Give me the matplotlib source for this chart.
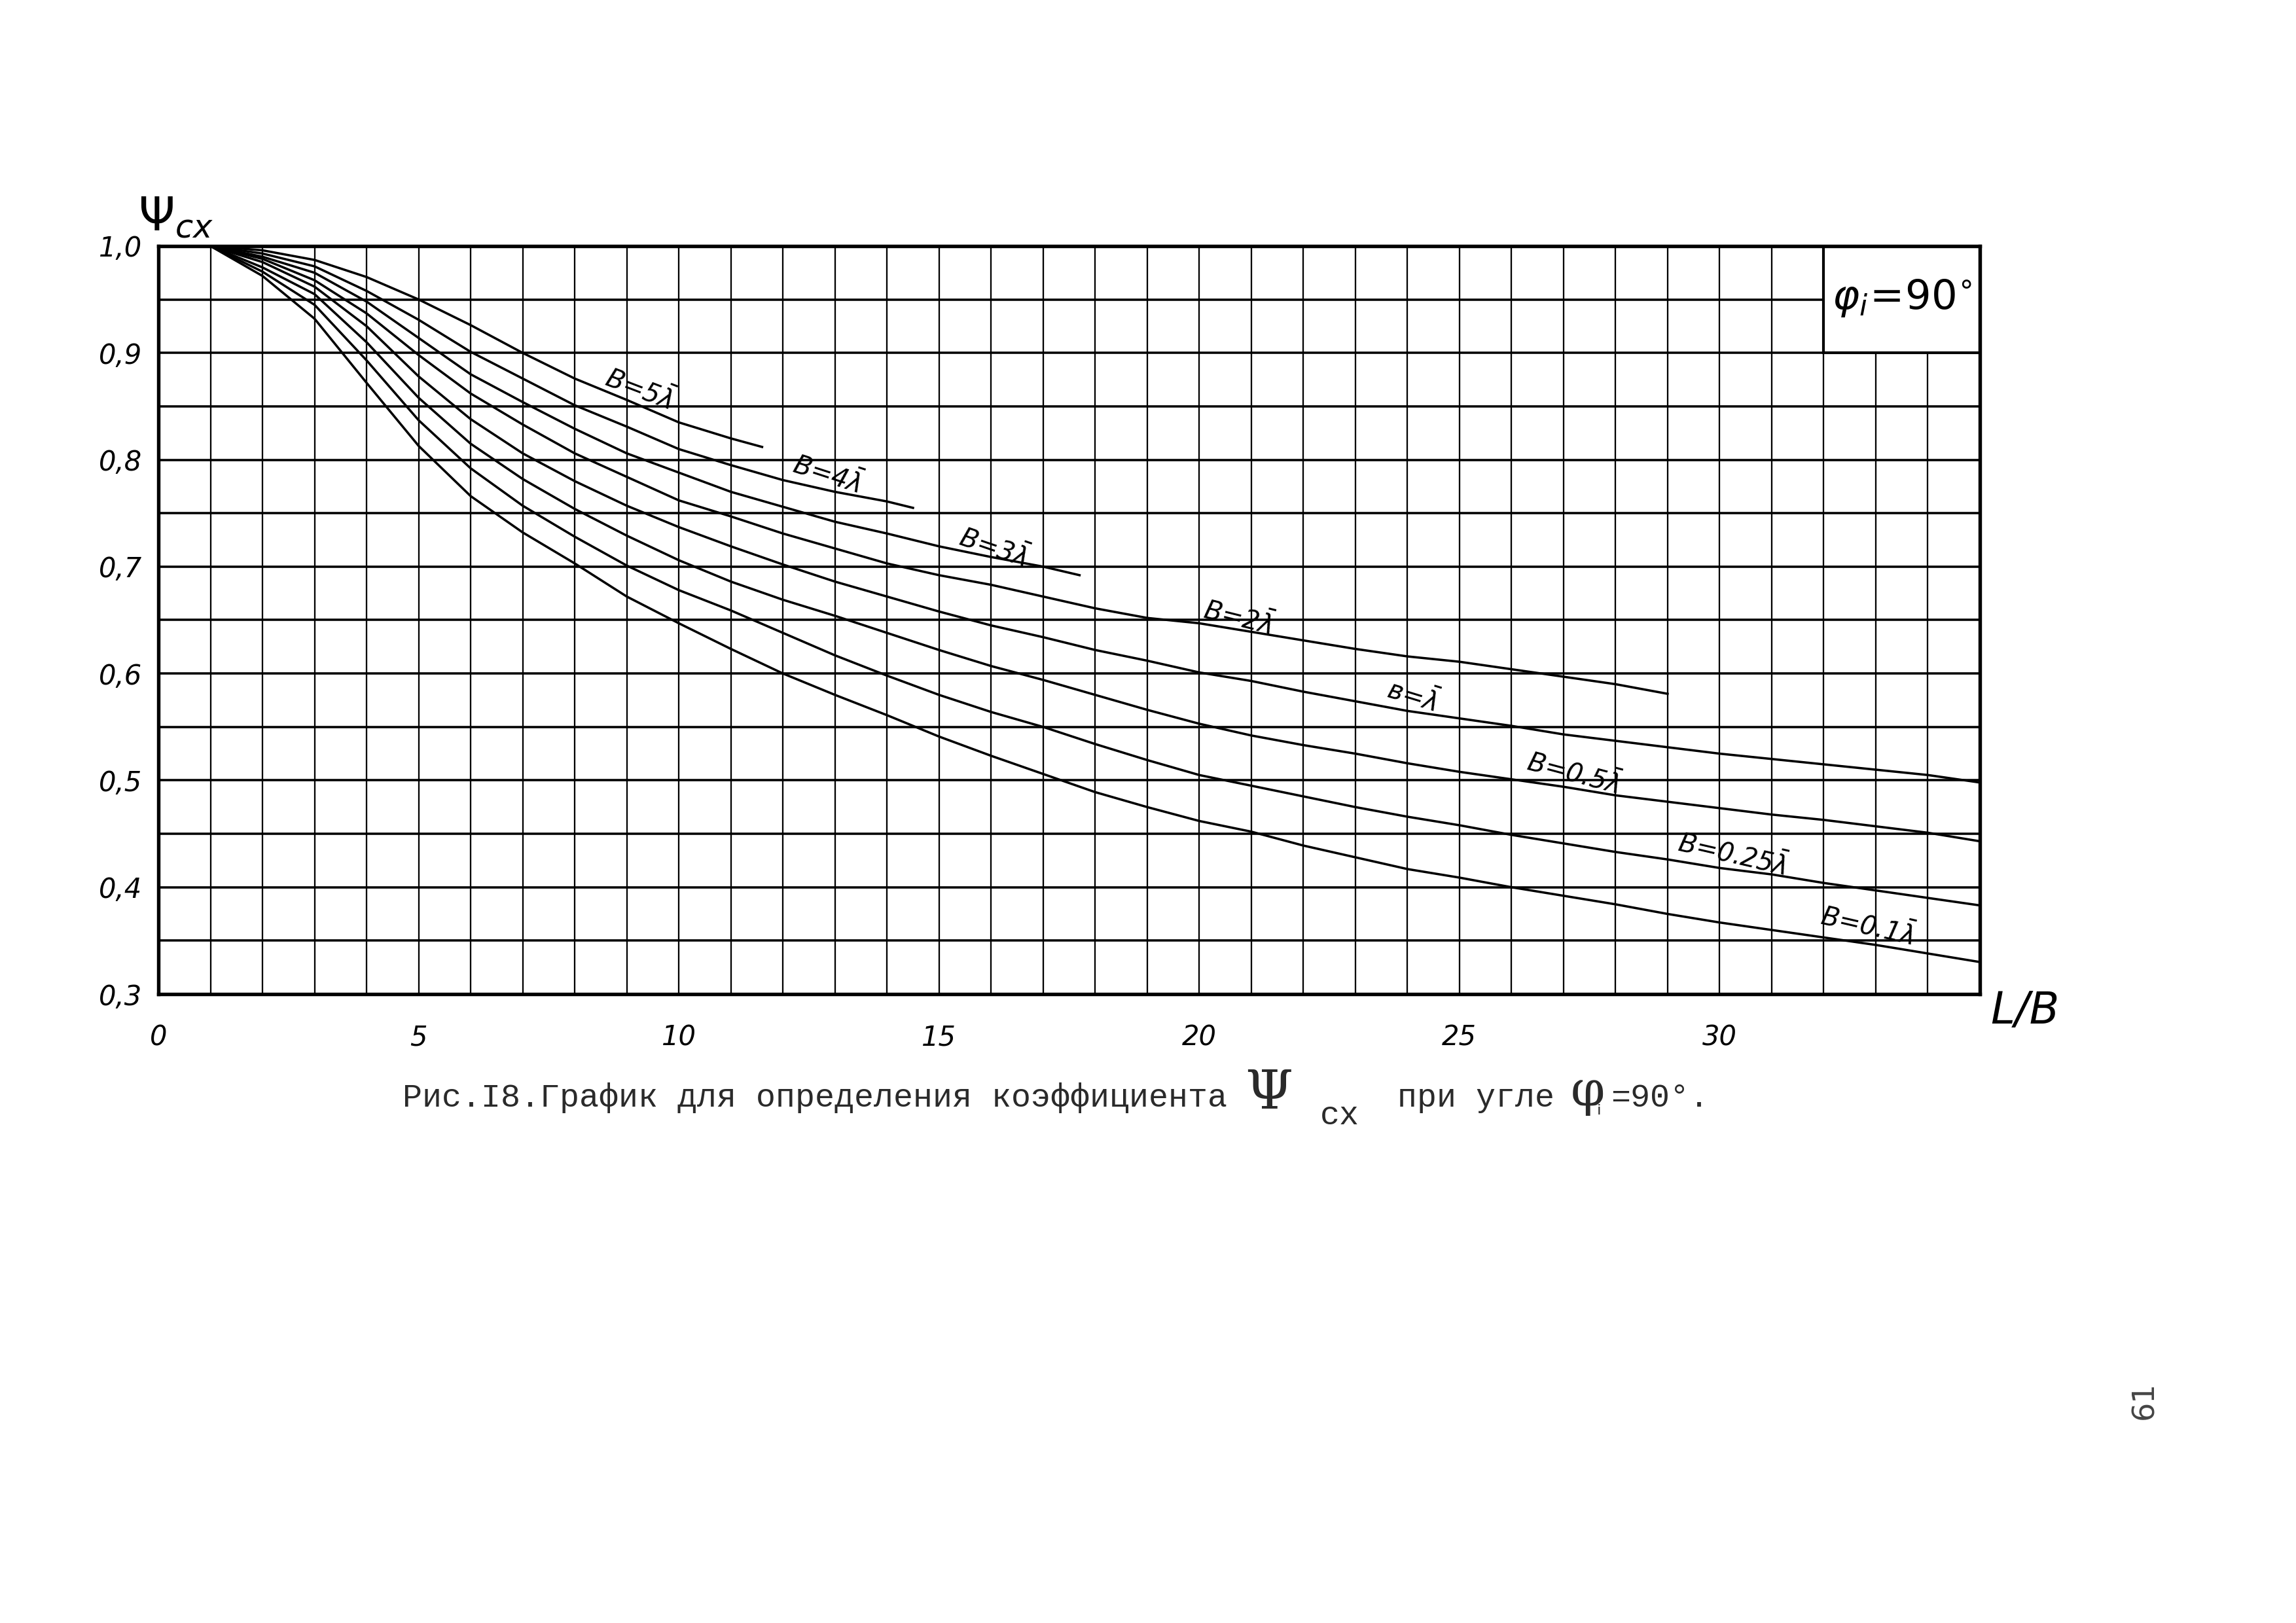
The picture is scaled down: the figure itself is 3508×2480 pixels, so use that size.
"""
Chart: coefficient psi_cx versus L/B for several widths B (angle phi_i = 90 deg)
Values read off the scanned nomogram by eye.
"""

import numpy as np
import matplotlib.pyplot as plt
from matplotlib.patches import Rectangle

# ---- data ----
x_b5 = [1, 2, 3, 4, 5, 6, 7, 8, 9, 10, 11, 11.6]
y_b5 = [1.0, 0.996, 0.987, 0.971, 0.950, 0.926, 0.900, 0.876, 0.856, 0.835, 0.820, 0.812]

x_b4 = [1, 2, 3, 4, 5, 6, 7, 8, 9, 10, 11, 12, 13, 14, 14.5]
y_b4 = [1.0, 0.993, 0.981, 0.958, 0.931, 0.901, 0.876, 0.851, 0.831, 0.810, 0.795,
        0.781, 0.770, 0.761, 0.755]

x_b3 = [1, 2, 3, 4, 5, 6, 7, 8, 9, 10, 11, 12, 13, 14, 15, 16, 17, 17.7]
y_b3 = [1.0, 0.990, 0.975, 0.948, 0.914, 0.880, 0.854, 0.829, 0.806, 0.788, 0.770,
        0.756, 0.742, 0.731, 0.719, 0.709, 0.700, 0.692]

x_b2 = list(range(1, 30))
y_b2 = [1.0, 0.988, 0.968, 0.937, 0.898, 0.862, 0.833, 0.806, 0.784, 0.762, 0.747,
        0.731, 0.717, 0.703, 0.692, 0.683, 0.672, 0.661, 0.652, 0.647, 0.639, 0.631,
        0.623, 0.616, 0.611, 0.604, 0.597, 0.590, 0.581]

x_long = list(range(1, 36))
y_b1 = [1.0, 0.985, 0.962, 0.925, 0.878, 0.838, 0.806, 0.780, 0.757, 0.737, 0.719,
        0.702, 0.686, 0.672, 0.658, 0.645, 0.634, 0.622, 0.612, 0.601, 0.593, 0.583,
        0.574, 0.565, 0.558, 0.551, 0.543, 0.537, 0.531, 0.525, 0.520, 0.515, 0.510,
        0.505, 0.498]
y_b05 = [1.0, 0.980, 0.955, 0.910, 0.858, 0.815, 0.782, 0.754, 0.729, 0.706, 0.686,
         0.669, 0.654, 0.638, 0.622, 0.607, 0.594, 0.580, 0.566, 0.553, 0.542, 0.533,
         0.525, 0.516, 0.508, 0.501, 0.494, 0.486, 0.480, 0.474, 0.468, 0.463, 0.457,
         0.451, 0.443]
y_b025 = [1.0, 0.976, 0.945, 0.893, 0.837, 0.792, 0.757, 0.728, 0.701, 0.678, 0.659,
          0.638, 0.617, 0.598, 0.580, 0.564, 0.550, 0.534, 0.519, 0.505, 0.495, 0.485,
          0.475, 0.466, 0.458, 0.449, 0.441, 0.433, 0.426, 0.418, 0.412, 0.404, 0.397,
          0.390, 0.383]
y_b01 = [1.0, 0.972, 0.932, 0.872, 0.813, 0.766, 0.732, 0.703, 0.672, 0.647, 0.623,
         0.600, 0.580, 0.561, 0.541, 0.523, 0.506, 0.489, 0.475, 0.462, 0.452, 0.439,
         0.428, 0.417, 0.409, 0.400, 0.392, 0.384, 0.375, 0.367, 0.360, 0.353, 0.346,
         0.338, 0.330]

curve_labels = ["В=5$\\bar{\\lambda}$", "В=4$\\bar{\\lambda}$", "В=3$\\bar{\\lambda}$",
                "В=2$\\bar{\\lambda}$", "в=$\\bar{\\lambda}$", "В=0.5$\\bar{\\lambda}$",
                "В=0.25$\\bar{\\lambda}$", "В=0.1$\\bar{\\lambda}$"]
# where each curve label sits (data coords) and its slant
label_x = [9.25, 12.85, 16.05, 20.75, 24.1, 27.2, 30.25, 32.85]
label_y = [0.866, 0.786, 0.718, 0.652, 0.579, 0.507, 0.431, 0.364]
label_rot = [-21, -18, -19, -14, -17, -15, -13, -13]

x_ticks = [0, 5, 10, 15, 20, 25, 30]
y_ticks = [0.3, 0.4, 0.5, 0.6, 0.7, 0.8, 0.9, 1.0]
y_tick_text = ["0,3", "0,4", "0,5", "0,6", "0,7", "0,8", "0,9", "1,0"]

# ---- figure ----
fig = plt.figure(figsize=(3508 / 300, 2480 / 300), dpi=300)
ax = fig.add_axes([0.069, 0.3875, 0.7933, 0.4609])

ax.set_xlim(0, 35)
ax.set_ylim(0.3, 1.0)

# graph paper grid: every 1 along L/B, every 0.05 along psi
ax.set_xticks(x_ticks)
ax.set_xticks(np.arange(0, 36, 1), minor=True)
ax.set_yticks(y_ticks)
ax.set_yticks(np.arange(0.3, 1.0001, 0.05), minor=True)
ax.set_xticklabels([str(t) for t in x_ticks], fontstyle='italic', fontsize=10)
ax.set_yticklabels(y_tick_text, fontstyle='italic', fontsize=10)
ax.tick_params(which='both', length=0)
ax.tick_params(axis='x', pad=11)
ax.tick_params(axis='y', pad=6)
ax.grid(True, axis='x', which='both', color='black', linewidth=0.55)
ax.grid(True, axis='y', which='both', color='black', linewidth=0.85)
ax.set_axisbelow(True)
for s in ax.spines.values():
    s.set_linewidth(1.3)

# the phi_i box covers the upper right cells
ax.add_patch(Rectangle((32, 0.9), 3, 0.1, facecolor='white', edgecolor='black',
                       linewidth=1.0, zorder=2))
ax.text(33.5, 0.951, "$\\varphi_i\\!=\\!90^{\\circ}$", ha='center', va='center',
        fontsize=15, zorder=3)

# curves
all_x = [x_b5, x_b4, x_b3, x_b2, x_long, x_long, x_long, x_long]
all_y = [y_b5, y_b4, y_b3, y_b2, y_b1, y_b05, y_b025, y_b01]
for xs, ys in zip(all_x, all_y):
    ax.plot(xs, ys, color='black', linewidth=0.85, zorder=4)

for lab, lx, ly, lr in zip(curve_labels, label_x, label_y, label_rot):
    ax.text(lx, ly, lab, rotation=lr, ha='center', va='center', fontsize=9.5,
            fontstyle='italic', zorder=5)

# axis names
fig.text(0.0765, 0.866, "$\\Psi_{cx}$", ha='center', va='center', fontsize=17)
fig.text(0.882, 0.377, "L/В", ha='center', va='center', fontsize=16, fontstyle='italic')

# caption, typewriter style
cap_y = 0.3234
mono = 'Liberation Mono'
ink = '#2a2a2a'
fig.text(0.1754, cap_y, "Рис.I8.График для определения коэффициента", ha='left',
         va='center', fontsize=12, family=mono, color=ink)
fig.text(0.5525, cap_y + 0.003, "Ψ", ha='center', va='center', fontsize=20,
         family='DejaVu Serif', color=ink)
fig.text(0.5835, cap_y - 0.011, "сх", ha='center', va='center', fontsize=12,
         family=mono, color=ink)
fig.text(0.6085, cap_y, "при угле", ha='left', va='center', fontsize=12,
         family=mono, color=ink)
fig.text(0.6915, cap_y + 0.004, "φ", ha='center', va='center', fontsize=18,
         family='DejaVu Serif', color=ink)
fig.text(0.6965, cap_y - 0.006, "ᵢ", ha='center', va='center', fontsize=9,
         color=ink)
fig.text(0.7015, cap_y, "=90°.", ha='left', va='center', fontsize=12,
         family=mono, color=ink)

# page number in the margin
fig.text(0.934, 0.137, "61", rotation=90, ha='center', va='center', fontsize=11,
         color='#444444')

fig.savefig("out.png", dpi=300)
